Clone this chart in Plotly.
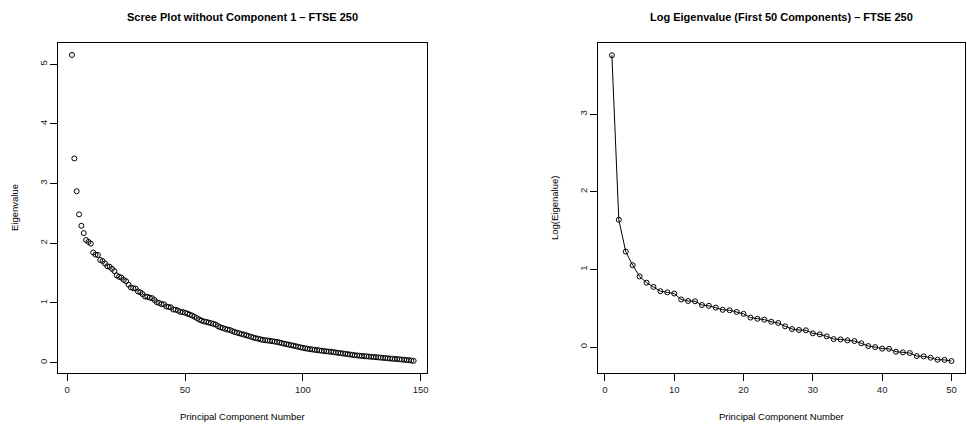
import numpy as np
import plotly.graph_objects as go

# Log eigenvalues (components 1..50)
log_eig_first50 = [3.76, 1.64, 1.23, 1.055, 0.91, 0.83, 0.775, 0.72, 0.705, 0.69,
                   0.613, 0.594, 0.59, 0.542, 0.532, 0.508, 0.48, 0.474, 0.452, 0.428,
                   0.38, 0.364, 0.353, 0.327, 0.31, 0.267, 0.232, 0.22, 0.216, 0.177,
                   0.164, 0.138, 0.103, 0.099, 0.086, 0.077, 0.048, 0.013, 0.0, -0.02,
                   -0.022, -0.06, -0.068, -0.077, -0.116, -0.12, -0.137, -0.163, -0.165, -0.18]

# Eigenvalues for components 51..147
eig_tail = [0.822, 0.805, 0.790, 0.768, 0.748, 0.722, 0.705, 0.690, 0.684, 0.672,
            0.662, 0.650, 0.638, 0.612, 0.592, 0.580, 0.566, 0.555, 0.548, 0.530,
            0.515, 0.503, 0.492, 0.480, 0.470, 0.458, 0.447, 0.433, 0.420, 0.410,
            0.402, 0.392, 0.382, 0.376, 0.372, 0.366, 0.360, 0.354, 0.347, 0.338,
            0.328, 0.318, 0.310, 0.302, 0.293, 0.285, 0.276, 0.266, 0.257, 0.248,
            0.240, 0.233, 0.227, 0.221, 0.215, 0.210, 0.205, 0.200, 0.195, 0.190,
            0.186, 0.182, 0.176, 0.170, 0.165, 0.160, 0.154, 0.148, 0.143, 0.137,
            0.131, 0.125, 0.121, 0.117, 0.113, 0.109, 0.106, 0.102, 0.099, 0.095,
            0.092, 0.088, 0.085, 0.081, 0.077, 0.073, 0.069, 0.066, 0.063, 0.060,
            0.056, 0.052, 0.049, 0.045, 0.041, 0.036, 0.030]

eigenvalues = list(np.exp(log_eig_first50)) + eig_tail
components = list(range(1, len(eigenvalues) + 1))

scree_x = components[1:]
scree_y = eigenvalues[1:]
log_x = components[:50]
log_y = log_eig_first50

left_xticks = [0, 50, 100, 150]
left_yticks = [0, 1, 2, 3, 4, 5]
right_xticks = [0, 10, 20, 30, 40, 50]
right_yticks = [0, 1, 2, 3]

FONT = "Liberation Sans, Arial, Helvetica, sans-serif"
W, H = 967, 432

fig = go.Figure()
fig.add_trace(go.Scatter(
    x=scree_x, y=scree_y, mode="markers",
    marker=dict(symbol="circle-open", size=5, color="black", line=dict(width=1, color="black")),
    xaxis="x", yaxis="y", showlegend=False, hoverinfo="x+y"))
fig.add_trace(go.Scatter(
    x=log_x, y=log_y, mode="lines+markers",
    line=dict(color="black", width=1),
    marker=dict(symbol="circle-open", size=5, color="black", line=dict(width=1, color="black")),
    xaxis="x2", yaxis="y2", showlegend=False, hoverinfo="x+y"))

L_dom = [58.3 / W, 427.3 / W]
R_dom = [598.3 / W, 965.0 / W]
Y_dom = [1 - 373.3 / H, 1 - 43.0 / H]

axis_common = dict(showline=True, linecolor="black", linewidth=1, mirror=True,
                   ticks="outside", ticklen=7, tickcolor="black", tickwidth=1,
                   showgrid=False, zeroline=False,
                   tickfont=dict(family=FONT, size=9.5, color="#222222"))

fig.update_layout(
    width=W, height=H,
    margin=dict(l=0, r=0, t=0, b=0),
    paper_bgcolor="white", plot_bgcolor="white",
    xaxis=dict(domain=L_dom, range=[-3.8, 152.8], tickvals=left_xticks, anchor="y", **axis_common),
    yaxis=dict(domain=Y_dom, range=[-0.178, 5.355], tickvals=left_yticks, tickangle=-90, anchor="x", **axis_common),
    xaxis2=dict(domain=R_dom, range=[-0.96, 51.96], tickvals=right_xticks, anchor="y2", **axis_common),
    yaxis2=dict(domain=Y_dom, range=[-0.338, 3.918], tickvals=right_yticks, tickangle=-90, anchor="x2", **axis_common),
)

def ann(text, x, y, size=9.5, bold=False, angle=0):
    fig.add_annotation(text=("<b>%s</b>" % text) if bold else text,
                       x=x / W, y=1 - y / H, xref="paper", yref="paper",
                       showarrow=False, textangle=angle,
                       font=dict(family=FONT, size=size, color="black"),
                       xanchor="center", yanchor="middle")

ann("Scree Plot without Component 1 \u2013 FTSE 250", 242.8, 17, size=11, bold=True)
ann("Log Eigenvalue (First 50 Components) \u2013 FTSE 250", 781.6, 17, size=11, bold=True)
ann("Principal Component Number", 242.8, 416)
ann("Principal Component Number", 781.6, 416)
ann("Eigenvalue", 15, 208, angle=-90)
ann("Log(Eigenalue)", 555, 208, angle=-90)

fig.write_html("out.html",
               config={"displayModeBar": False},
               post_script="document.body.style.margin='0';document.body.style.overflow='hidden';")
